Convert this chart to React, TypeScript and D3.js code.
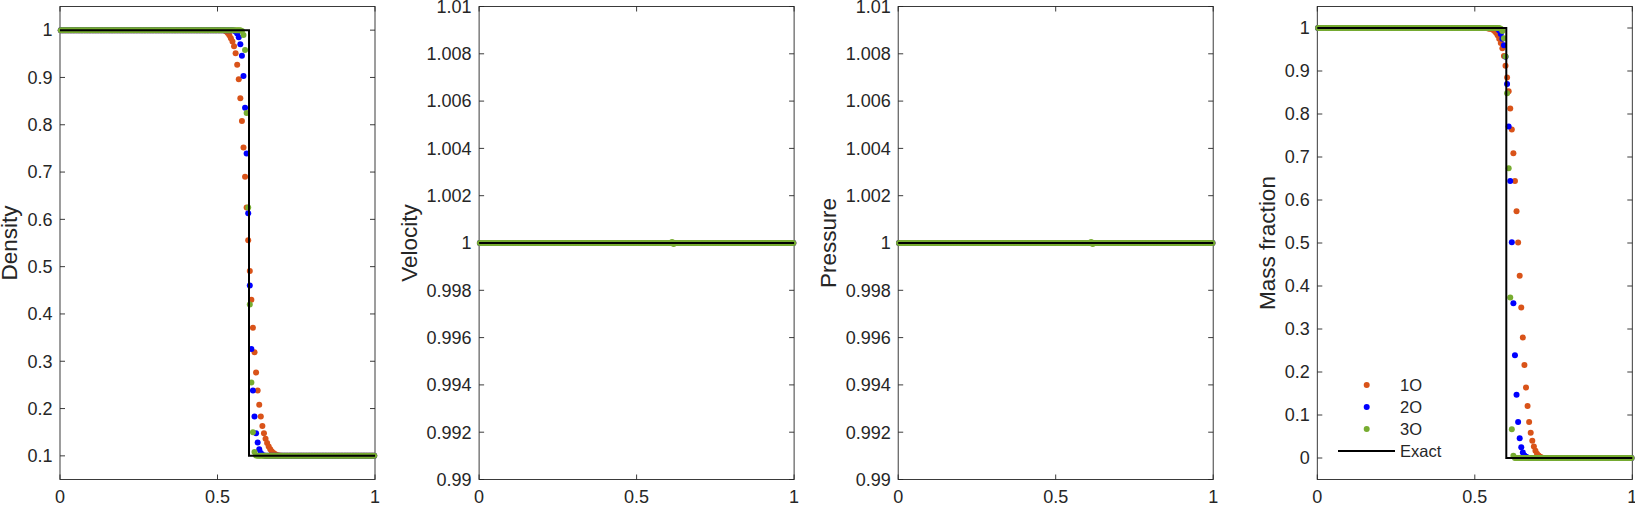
import React from 'react';
import * as d3 from 'd3';

// ---------------- data ----------------
const N_CELLS = 200; // cell-centred grid on [0,1]
const SERIES_NAMES = ['1O', '2O', '3O'];
const SERIES_COLORS = ['#D95319', '#0000FF', '#77AC30'];

const X_TICKS = [0, 0.5, 1];
const DENSITY_TICKS = [0.1, 0.2, 0.3, 0.4, 0.5, 0.6, 0.7, 0.8, 0.9, 1];
const VELOCITY_TICKS = [0.99, 0.992, 0.994, 0.996, 0.998, 1, 1.002, 1.004, 1.006, 1.008, 1.01];
const PRESSURE_TICKS = [0.99, 0.992, 0.994, 0.996, 0.998, 1, 1.002, 1.004, 1.006, 1.008, 1.01];
const MASS_TICKS = [0, 0.1, 0.2, 0.3, 0.4, 0.5, 0.6, 0.7, 0.8, 0.9, 1];

// Density: left state 1, right state 0.1; transition values from start index
const DENSITY_LEFT = 1;
const DENSITY_RIGHT = 0.1;
const density1O_start = 104;
const density1O = [0.999, 0.997, 0.994, 0.989, 0.983, 0.976, 0.966, 0.951, 0.927, 0.896, 0.856, 0.808, 0.752, 0.69, 0.625, 0.556, 0.491, 0.43, 0.371, 0.319, 0.276, 0.238, 0.208, 0.183, 0.163, 0.148, 0.136, 0.127, 0.12, 0.114, 0.109, 0.106, 0.104, 0.102, 0.101, 0.1005];
const density2O_start = 110;
const density2O = [0.999, 0.997, 0.993, 0.985, 0.97, 0.946, 0.903, 0.836, 0.739, 0.613, 0.46, 0.326, 0.238, 0.183, 0.148, 0.128, 0.114, 0.106, 0.102, 0.1005];
const density3O_start = 115;
const density3O = [0.998, 0.99, 0.958, 0.825, 0.625, 0.42, 0.255, 0.15, 0.108, 0.101];

// Velocity and pressure: uniform 1
const VELOCITY_STATE = 1;
const velocity1O_start = 0;
const velocity1O: number[] = [];
const velocity2O_start = 0;
const velocity2O: number[] = [];
const velocity3O_start = 122;
const velocity3O = [1.00004, 0.99996];
const PRESSURE_STATE = 1;
const pressure1O_start = 0;
const pressure1O: number[] = [];
const pressure2O_start = 0;
const pressure2O: number[] = [];
const pressure3O_start = 122;
const pressure3O = [1.00004, 0.99996];

// Mass fraction: left 1, right 0
const MASS_LEFT = 1;
const MASS_RIGHT = 0;
const mass1O_start = 108;
const mass1O = [0.999, 0.9985, 0.998, 0.996, 0.993, 0.989, 0.983, 0.975, 0.965, 0.953, 0.935, 0.912, 0.885, 0.853, 0.813, 0.764, 0.709, 0.644, 0.574, 0.501, 0.424, 0.35, 0.28, 0.216, 0.164, 0.121, 0.084, 0.059, 0.04, 0.027, 0.017, 0.01, 0.006, 0.003, 0.001];
const mass2O_start = 114;
const mass2O = [0.998, 0.994, 0.986, 0.975, 0.96, 0.933, 0.87, 0.771, 0.644, 0.502, 0.36, 0.239, 0.147, 0.084, 0.046, 0.025, 0.013, 0.006, 0.003, 0.001];
const mass3O_start = 116;
const mass3O = [0.998, 0.993, 0.976, 0.934, 0.848, 0.674, 0.373, 0.067, 0.005];

// Exact solution
const EXACT_X = [0, 0.6, 0.6, 1];
const EXACT_DENSITY = [1, 1, 0.1, 0.1];
const EXACT_VELOCITY = [1, 1, 1, 1];
const EXACT_PRESSURE = [1, 1, 1, 1];
const EXACT_MASS = [1, 1, 0, 0];

// ---------------- layout ----------------
const W = 1635;
const H = 507;
const PLOT_TOP = 6.5;
const PLOT_BOTTOM = 479.5;
const PLOT_W = 315;
const PANEL_LEFTS = [60, 479.1, 898.2, 1317.3];
const FONT = '"Liberation Sans", Arial, Helvetica, sans-serif';
const TEXT_COLOR = '#262626';
const TICK_LEN = 5;
const R = 3;

type Pt = [number, number];

function buildSeries(start: number, values: number[], left: number, right: number): Pt[] {
  return d3.range(N_CELLS).map((i) => {
    const x = (i + 0.5) / N_CELLS;
    const k = i - start;
    const v = k < 0 ? left : k < values.length ? values[k] : right;
    return [x, v] as Pt;
  });
}

const fmt3 = (v: number) => String(+v.toFixed(3));

interface PanelProps {
  left: number;
  yDomain: [number, number];
  yTicks: number[];
  label: string;
  labelOffset: number;
  series: Pt[][];
  exact: Pt[];
  legend?: boolean;
}

function Panel({ left, yDomain, yTicks, label, labelOffset, series, exact, legend }: PanelProps) {
  const x = d3.scaleLinear().domain([0, 1]).range([left, left + PLOT_W]);
  const y = d3.scaleLinear().domain(yDomain).range([PLOT_BOTTOM, PLOT_TOP]);
  const line = d3
    .line<Pt>()
    .x((d) => x(d[0]))
    .y((d) => y(d[1]));
  const right = left + PLOT_W;
  const midY = (PLOT_TOP + PLOT_BOTTOM) / 2;
  return (
    <g>
      {/* axes box */}
      <rect x={left} y={PLOT_TOP} width={PLOT_W} height={PLOT_BOTTOM - PLOT_TOP} fill="none" stroke={TEXT_COLOR} strokeWidth={0.9} />
      {/* y ticks */}
      {yTicks.map((t) => (
        <g key={'y' + t}>
          <line x1={left} x2={left + TICK_LEN} y1={y(t)} y2={y(t)} stroke={TEXT_COLOR} strokeWidth={0.9} />
          <line x1={right} x2={right - TICK_LEN} y1={y(t)} y2={y(t)} stroke={TEXT_COLOR} strokeWidth={0.9} />
          <text x={left - 7.5} y={y(t)} dy="0.35em" textAnchor="end" fontSize={18} fill={TEXT_COLOR} fontFamily={FONT}>
            {fmt3(t)}
          </text>
        </g>
      ))}
      {/* x ticks */}
      {X_TICKS.map((t) => (
        <g key={'x' + t}>
          <line x1={x(t)} x2={x(t)} y1={PLOT_BOTTOM} y2={PLOT_BOTTOM - TICK_LEN} stroke={TEXT_COLOR} strokeWidth={0.9} />
          <line x1={x(t)} x2={x(t)} y1={PLOT_TOP} y2={PLOT_TOP + TICK_LEN} stroke={TEXT_COLOR} strokeWidth={0.9} />
          <text x={x(t)} y={503} textAnchor="middle" fontSize={18} fill={TEXT_COLOR} fontFamily={FONT}>
            {fmt3(t)}
          </text>
        </g>
      ))}
      {/* y label */}
      <text
        transform={`translate(${left - labelOffset},${midY}) rotate(-90)`}
        textAnchor="middle"
        fontSize={22.5}
        fill={TEXT_COLOR}
        fontFamily={FONT}
      >
        {label}
      </text>
      {/* series markers */}
      {series.map((s, si) => (
        <g key={'s' + si} fill={SERIES_COLORS[si]}>
          {s.map((d, i) => (
            <circle key={i} cx={x(d[0])} cy={y(d[1])} r={R} />
          ))}
        </g>
      ))}
      {/* exact */}
      <path d={line(exact) || ''} fill="none" stroke="#000" strokeWidth={2} />
      {legend && (
        <g fontFamily={FONT} fontSize={16.5} fill="#000">
          {SERIES_NAMES.map((n, i) => {
            const ly = 385 + i * 22;
            return (
              <g key={n}>
                <circle cx={1366.7} cy={ly} r={R} fill={SERIES_COLORS[i]} />
                <text x={1400} y={ly} dy="0.35em" fill={TEXT_COLOR}>
                  {n}
                </text>
              </g>
            );
          })}
          <line x1={1338} x2={1395} y1={451} y2={451} stroke="#000" strokeWidth={2} />
          <text x={1400} y={451} dy="0.35em" fill={TEXT_COLOR}>
            Exact
          </text>
        </g>
      )}
    </g>
  );
}

export default function App() {
  const zipExact = (ys: number[]): Pt[] => EXACT_X.map((xv, i) => [xv, ys[i]] as Pt);

  const densitySeries = [
    buildSeries(density1O_start, density1O, DENSITY_LEFT, DENSITY_RIGHT),
    buildSeries(density2O_start, density2O, DENSITY_LEFT, DENSITY_RIGHT),
    buildSeries(density3O_start, density3O, DENSITY_LEFT, DENSITY_RIGHT),
  ];
  const velocitySeries = [
    buildSeries(velocity1O_start, velocity1O, VELOCITY_STATE, VELOCITY_STATE),
    buildSeries(velocity2O_start, velocity2O, VELOCITY_STATE, VELOCITY_STATE),
    buildSeries(velocity3O_start, velocity3O, VELOCITY_STATE, VELOCITY_STATE),
  ];
  const pressureSeries = [
    buildSeries(pressure1O_start, pressure1O, PRESSURE_STATE, PRESSURE_STATE),
    buildSeries(pressure2O_start, pressure2O, PRESSURE_STATE, PRESSURE_STATE),
    buildSeries(pressure3O_start, pressure3O, PRESSURE_STATE, PRESSURE_STATE),
  ];
  const massSeries = [
    buildSeries(mass1O_start, mass1O, MASS_LEFT, MASS_RIGHT),
    buildSeries(mass2O_start, mass2O, MASS_LEFT, MASS_RIGHT),
    buildSeries(mass3O_start, mass3O, MASS_LEFT, MASS_RIGHT),
  ];

  return (
    <svg width={W} height={H} style={{ position: 'absolute', left: 0, top: 0, background: '#fff' }}>
      <rect x={0} y={0} width={W} height={H} fill="#fff" />
      <Panel
        left={PANEL_LEFTS[0]}
        yDomain={[0.05, 1.05]}
        yTicks={DENSITY_TICKS}
        label="Density"
        labelOffset={43}
        series={densitySeries}
        exact={zipExact(EXACT_DENSITY)}
      />
      <Panel
        left={PANEL_LEFTS[1]}
        yDomain={[0.99, 1.01]}
        yTicks={VELOCITY_TICKS}
        label="Velocity"
        labelOffset={62.5}
        series={velocitySeries}
        exact={zipExact(EXACT_VELOCITY)}
      />
      <Panel
        left={PANEL_LEFTS[2]}
        yDomain={[0.99, 1.01]}
        yTicks={PRESSURE_TICKS}
        label="Pressure"
        labelOffset={62.5}
        series={pressureSeries}
        exact={zipExact(EXACT_PRESSURE)}
      />
      <Panel
        left={PANEL_LEFTS[3]}
        yDomain={[-0.05, 1.05]}
        yTicks={MASS_TICKS}
        label="Mass fraction"
        labelOffset={42}
        series={massSeries}
        exact={zipExact(EXACT_MASS)}
        legend
      />
    </svg>
  );
}
